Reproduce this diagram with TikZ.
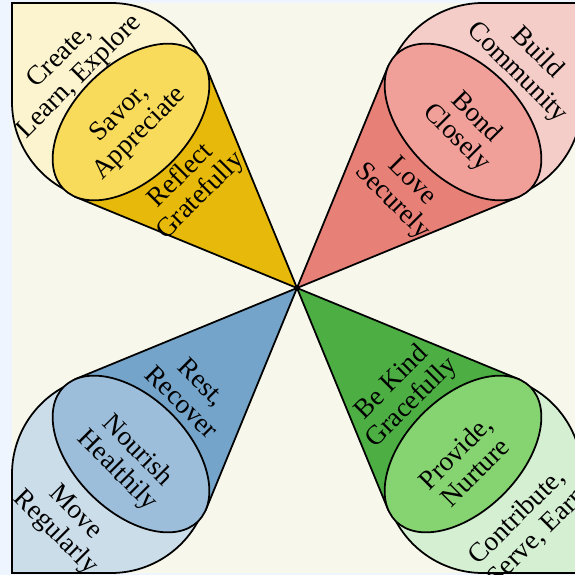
\documentclass[tikz,border=0pt]{standalone}
\usepackage{fontspec}
\setmainfont{Liberation Serif}
\usepackage{xcolor}
\definecolor{PageBlue}{HTML}{EEF5FE}
\definecolor{Cream}{HTML}{F7F7EC}
\definecolor{YelOut}{HTML}{FCF3CF}
\definecolor{YelMid}{HTML}{F9DB5B}
\definecolor{YelDeep}{HTML}{E6B90A}
\definecolor{RedOut}{HTML}{F5CDC8}
\definecolor{RedMid}{HTML}{F0A098}
\definecolor{RedDeep}{HTML}{E78076}
\definecolor{BluOut}{HTML}{CCDDEA}
\definecolor{BluMid}{HTML}{9CBEDA}
\definecolor{BluDeep}{HTML}{74A4C9}
\definecolor{GrnOut}{HTML}{D5EFD2}
\definecolor{GrnMid}{HTML}{86D371}
\definecolor{GrnDeep}{HTML}{4CAE43}
\usetikzlibrary{positioning}

\begin{document}
\begin{tikzpicture}[x=0.02cm, y=-0.02cm,
  lbl/.style={font=\fontsize{15.5}{16}\selectfont, align=center, inner sep=0pt},
  rim/.style={line width=1pt, draw=black}]
\useasboundingbox (0,0) rectangle (575,575);
\clip (0,0) rectangle (575,575);
% Background
\fill[PageBlue] (0,0) rectangle (575,575);
\fill[Cream] (12,3) rectangle (582,573);
% Top left petal
\begin{scope}[shift={(297,288)}]
  \filldraw[rim, fill=YelOut] (-98.9,-233.1) arc[start angle=-28.4, end angle=-90, radius=99]
    -- (-285,-285) -- (-285,-186) arc[start angle=180, end angle=118.4, radius=99] -- cycle;
  \filldraw[rim, fill=YelDeep] (0,0) -- (-91.0,-221.4) -- (-221.4,-91.0) -- cycle;
  \filldraw[rim, fill=YelMid] (-166,-166) circle[x radius=95, y radius=57, rotate=45];
\end{scope}
% Top right petal
\begin{scope}[shift={(297,288)}, xscale=-1]
  \filldraw[rim, fill=RedOut] (-98.9,-233.1) arc[start angle=-28.4, end angle=-90, radius=99]
    -- (-285,-285) -- (-285,-186) arc[start angle=180, end angle=118.4, radius=99] -- cycle;
  \filldraw[rim, fill=RedDeep] (0,0) -- (-91.0,-221.4) -- (-221.4,-91.0) -- cycle;
  \filldraw[rim, fill=RedMid] (-166,-166) circle[x radius=95, y radius=57, rotate=45];
\end{scope}
% Bottom left petal
\begin{scope}[shift={(297,288)}, yscale=-1]
  \filldraw[rim, fill=BluOut] (-98.9,-233.1) arc[start angle=-28.4, end angle=-90, radius=99]
    -- (-285,-285) -- (-285,-186) arc[start angle=180, end angle=118.4, radius=99] -- cycle;
  \filldraw[rim, fill=BluDeep] (0,0) -- (-91.0,-221.4) -- (-221.4,-91.0) -- cycle;
  \filldraw[rim, fill=BluMid] (-166,-166) circle[x radius=95, y radius=57, rotate=45];
\end{scope}
% Bottom right petal
\begin{scope}[shift={(297,288)}, scale=-1]
  \filldraw[rim, fill=GrnOut] (-98.9,-233.1) arc[start angle=-28.4, end angle=-90, radius=99]
    -- (-285,-285) -- (-285,-186) arc[start angle=180, end angle=118.4, radius=99] -- cycle;
  \filldraw[rim, fill=GrnDeep] (0,0) -- (-91.0,-221.4) -- (-221.4,-91.0) -- cycle;
  \filldraw[rim, fill=GrnMid] (-166,-166) circle[x radius=95, y radius=57, rotate=45];
\end{scope}
% Labels
\node[lbl, rotate=45] (create) at (70,67) {Create,\\Learn, Explore};
\node[lbl, rotate=45] (savor) at (130,124) {Savor,\\Appreciate};
\node[lbl, rotate=45] (reflect) at (191,186) {Reflect\\Gratefully};
\node[lbl, rotate=-45] (build) at (527,63) {Build\\Community};
\node[lbl, rotate=-45] (bond) at (466,128) {Bond\\Closely};
\node[lbl, rotate=-45] (love) at (402,192) {Love\\Securely};
\node[lbl, rotate=-45] (rest) at (192,392) {Rest,\\Recover};
\node[lbl, rotate=-45] (nourish) at (127,461) {Nourish\\Healthily};
\node[lbl, rotate=-45] (move) at (65,523) {Move\\Regularly};
\node[lbl, rotate=45] (kind) at (402,393) {Be Kind\\Gracefully};
\node[lbl, rotate=45] (provide) at (465,462) {Provide,\\Nurture};
\node[lbl, rotate=45] (contribute) at (527,527) {Contribute,\\Serve, Earn};
\end{tikzpicture}
\end{document}
